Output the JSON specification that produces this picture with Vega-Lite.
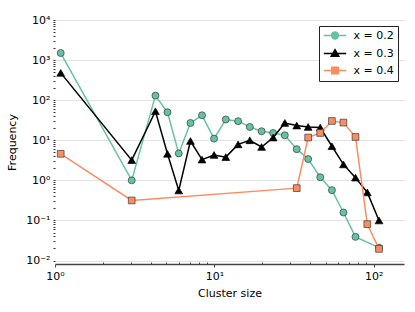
{
  "$schema": "https://vega.github.io/schema/vega-lite/v6.json",
  "width": 349,
  "height": 244,
  "autosize": "none",
  "padding": {"left": 55, "top": 20, "right": 11, "bottom": 48},
  "background": "white",
  "config": {
    "font": "DejaVu Sans",
    "view": {"stroke": null},
    "axis": {"labelFont": "DejaVu Sans", "titleFont": "DejaVu Sans", "labelColor": "#000", "titleColor": "#000", "titleFontWeight": "normal", "labelFontSize": 11, "titleFontSize": 11}
  },
  "data": {"values": [
    {"series": "x = 0.2", "size": 1.086, "freq": 1500},
    {"series": "x = 0.2", "size": 3.03, "freq": 1.0},
    {"series": "x = 0.2", "size": 4.27, "freq": 130},
    {"series": "x = 0.2", "size": 5.08, "freq": 50},
    {"series": "x = 0.2", "size": 5.98, "freq": 4.7},
    {"series": "x = 0.2", "size": 7.08, "freq": 27},
    {"series": "x = 0.2", "size": 8.37, "freq": 42},
    {"series": "x = 0.2", "size": 9.96, "freq": 11},
    {"series": "x = 0.2", "size": 11.8, "freq": 33},
    {"series": "x = 0.2", "size": 14.1, "freq": 30},
    {"series": "x = 0.2", "size": 16.7, "freq": 21.5},
    {"series": "x = 0.2", "size": 19.8, "freq": 16.8},
    {"series": "x = 0.2", "size": 23.4, "freq": 15.2},
    {"series": "x = 0.2", "size": 27.7, "freq": 13.3},
    {"series": "x = 0.2", "size": 32.9, "freq": 6.0},
    {"series": "x = 0.2", "size": 38.8, "freq": 3.4},
    {"series": "x = 0.2", "size": 46.2, "freq": 1.2},
    {"series": "x = 0.2", "size": 54.7, "freq": 0.57},
    {"series": "x = 0.2", "size": 64.6, "freq": 0.158},
    {"series": "x = 0.2", "size": 76.9, "freq": 0.039},
    {"series": "x = 0.2", "size": 108, "freq": 0.021},
    {"series": "x = 0.3", "size": 1.086, "freq": 480},
    {"series": "x = 0.3", "size": 3.03, "freq": 3.2},
    {"series": "x = 0.3", "size": 4.27, "freq": 53},
    {"series": "x = 0.3", "size": 5.08, "freq": 4.6},
    {"series": "x = 0.3", "size": 5.98, "freq": 0.56},
    {"series": "x = 0.3", "size": 7.08, "freq": 9.6},
    {"series": "x = 0.3", "size": 8.37, "freq": 3.3},
    {"series": "x = 0.3", "size": 9.96, "freq": 4.3},
    {"series": "x = 0.3", "size": 11.8, "freq": 3.8},
    {"series": "x = 0.3", "size": 14.1, "freq": 7.9},
    {"series": "x = 0.3", "size": 16.7, "freq": 10},
    {"series": "x = 0.3", "size": 19.8, "freq": 6.8},
    {"series": "x = 0.3", "size": 23.4, "freq": 11.7},
    {"series": "x = 0.3", "size": 27.7, "freq": 27},
    {"series": "x = 0.3", "size": 32.9, "freq": 23.3},
    {"series": "x = 0.3", "size": 38.8, "freq": 21.5},
    {"series": "x = 0.3", "size": 46.2, "freq": 20.8},
    {"series": "x = 0.3", "size": 54.7, "freq": 7.1},
    {"series": "x = 0.3", "size": 64.6, "freq": 2.5},
    {"series": "x = 0.3", "size": 76.9, "freq": 1.17},
    {"series": "x = 0.3", "size": 91.2, "freq": 0.5},
    {"series": "x = 0.3", "size": 108, "freq": 0.1},
    {"series": "x = 0.4", "size": 1.086, "freq": 4.6},
    {"series": "x = 0.4", "size": 3.03, "freq": 0.316},
    {"series": "x = 0.4", "size": 32.9, "freq": 0.64},
    {"series": "x = 0.4", "size": 38.8, "freq": 11.7},
    {"series": "x = 0.4", "size": 46.2, "freq": 15.2},
    {"series": "x = 0.4", "size": 54.7, "freq": 30.3},
    {"series": "x = 0.4", "size": 64.6, "freq": 27.6},
    {"series": "x = 0.4", "size": 76.9, "freq": 12.1},
    {"series": "x = 0.4", "size": 91.2, "freq": 0.081},
    {"series": "x = 0.4", "size": 108, "freq": 0.0195}
  ]},
  "encoding": {
    "x": {
      "field": "size", "type": "quantitative",
      "scale": {"type": "log", "domain": [1, 155], "nice": false},
      "axis": {
        "title": "Cluster size",
        "titlePadding": 6,
        "grid": false,
        "values": [1,2,3,4,5,6,7,8,9,10,20,30,40,50,60,70,80,90,100],
        "labelExpr": "datum.value == 1 ? '10⁰' : datum.value == 10 ? '10¹' : datum.value == 100 ? '10²' : ''",
        "labelPadding": 3,
        "labelOverlap": false,
        "labelFlush": false,
        "domainColor": "#444",
        "domainWidth": 1.5,
        "tickColor": "#444",
        "tickWidth": 1,
        "tickSize": {"condition": {"test": "datum.value == 1 || datum.value == 10 || datum.value == 100", "value": 3}, "value": -2}
      }
    },
    "y": {
      "field": "freq", "type": "quantitative",
      "scale": {"type": "log", "domain": [0.0082, 10000], "nice": false},
      "axis": {
        "title": "Frequency",
        "titlePadding": 8,
        "domain": false,
        "values": [0.01,0.02,0.03,0.04,0.05,0.06,0.07,0.08,0.09,0.1,0.2,0.3,0.4,0.5,0.6,0.7,0.8,0.9,1,2,3,4,5,6,7,8,9,10,20,30,40,50,60,70,80,90,100,200,300,400,500,600,700,800,900,1000,2000,3000,4000,5000,6000,7000,8000,9000,10000],
        "labelExpr": "datum.value == 0.01 ? '10⁻²' : datum.value == 0.1 ? '10⁻¹' : datum.value == 1 ? '10⁰' : datum.value == 10 ? '10¹' : datum.value == 100 ? '10²' : datum.value == 1000 ? '10³' : datum.value == 10000 ? '10⁴' : ''",
        "labelOverlap": false,
        "labelFlush": false,
        "labelPadding": 3,
        "tickSize": 2,
        "tickColor": "#333",
        "tickWidth": 1,
        "gridColor": "#e3e3e3",
        "gridWidth": 1,
        "gridOpacity": {"condition": {"test": "datum.value == 0.01 || datum.value == 0.1 || datum.value == 1 || datum.value == 10 || datum.value == 100 || datum.value == 1000 || datum.value == 10000", "value": 1}, "value": 0}
      }
    },
    "color": {
      "field": "series", "type": "nominal",
      "scale": {"domain": ["x = 0.2", "x = 0.3", "x = 0.4"], "range": ["#66c2a5", "#000000", "#fc8d62"]},
      "legend": {
        "title": null,
        "orient": "top-right",
        "offset": 6,
        "labelFont": "DejaVu Sans",
        "labelFontSize": 11,
        "labelColor": "#000",
        "strokeColor": "#222",
        "fillColor": "white",
        "padding": 4,
        "rowPadding": 4,
        "symbolSize": 64,
        "symbolOffset": 6.5,
        "labelOffset": 13,
        "encode": {
          "symbols": {
            "update": {
              "shape": {"signal": "datum.value === 'x = 0.2' ? 'M-2.8,0H-0.85M0.85,0H2.8M0.85,0A0.85,0.85 0 1 1 -0.85,0A0.85,0.85 0 1 1 0.85,0Z' : datum.value === 'x = 0.3' ? 'M-2.8,0H2.8M0,-0.95L0.95,0.7L-0.95,0.7Z' : 'M-2.8,0H-0.82M0.82,0H2.8M-0.82,-0.82H0.82V0.82H-0.82Z'"},
              "fill": {"signal": "scale('color', datum.value)"},
              "stroke": {"signal": "scale('color', datum.value)"},
              "strokeWidth": {"value": 1.5},
              "opacity": {"value": 1},
              "fillOpacity": {"value": 1}
            }
          }
        }
      }
    }
  },
  "layer": [
    {"transform": [{"filter": "datum.series === 'x = 0.2'"}], "mark": {"type": "line", "strokeWidth": 1.5}},
    {"transform": [{"filter": "datum.series === 'x = 0.2'"}], "mark": {"type": "point", "filled": true, "shape": "circle", "size": 49, "stroke": "#3a3a3a", "strokeWidth": 0.7, "opacity": 1}},
    {"transform": [{"filter": "datum.series === 'x = 0.3'"}], "mark": {"type": "line", "strokeWidth": 1.5}},
    {"transform": [{"filter": "datum.series === 'x = 0.3'"}], "mark": {"type": "point", "filled": true, "shape": "triangle-up", "size": 60, "stroke": "#000", "strokeWidth": 0.7, "opacity": 1}},
    {"transform": [{"filter": "datum.series === 'x = 0.4'"}], "mark": {"type": "line", "strokeWidth": 1.5}},
    {"transform": [{"filter": "datum.series === 'x = 0.4'"}], "mark": {"type": "point", "filled": true, "shape": "square", "size": 45, "stroke": "#3a3a3a", "strokeWidth": 0.7, "opacity": 1}}
  ]
}
